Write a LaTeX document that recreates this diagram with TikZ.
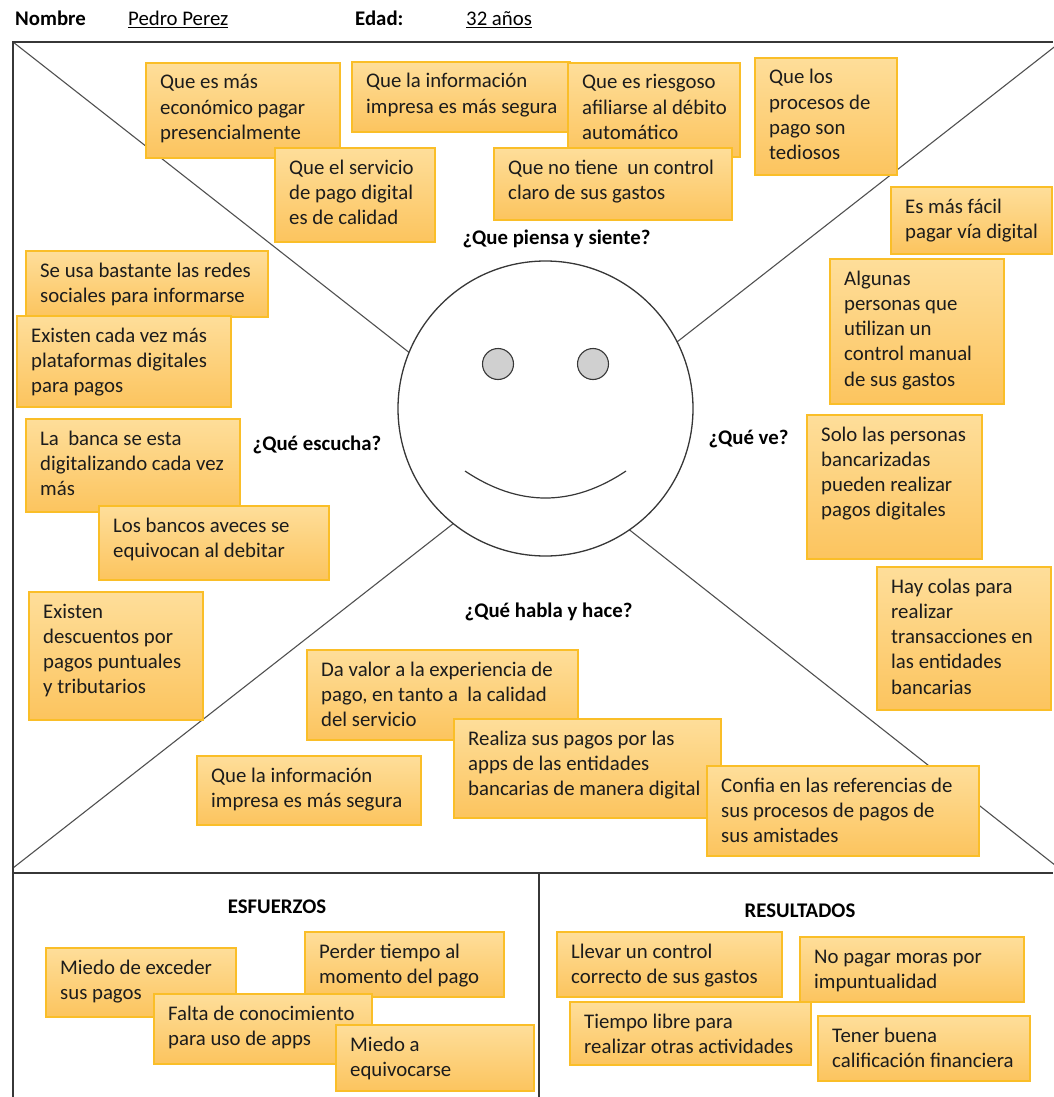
\documentclass[tikz,border=0pt]{standalone}
\usepackage{fontspec}
\setmainfont{Carlito}
\usetikzlibrary{calc}

\definecolor{noteedge}{RGB}{250,190,40}
\definecolor{notetop}{RGB}{254,222,154}
\definecolor{notebot}{RGB}{252,196,94}
\definecolor{ink}{RGB}{28,28,28}
\definecolor{frameline}{RGB}{55,55,55}
\definecolor{diagline}{RGB}{80,80,80}
\definecolor{eyefill}{RGB}{208,208,208}

\newcommand{\stickyfont}{\fontsize{20.8}{25.3}\selectfont}

\tikzset{
  note/.style={rectangle, draw=noteedge, line width=1.4pt, top color=notetop,
    bottom color=notebot, inner sep=0pt, outer sep=0pt, anchor=north west},
  notetext/.style={inner sep=0pt, anchor=base west, text=ink, font=\stickyfont},
  heading/.style={inner sep=0pt, anchor=base, text=black, font=\stickyfont\bfseries},
  headword/.style={inner sep=0pt, anchor=base west, text=black, font=\stickyfont},
  frame/.style={draw=frameline, line width=1.7pt},
  diag/.style={draw=diagline, line width=1.1pt},
}

% sticky note: name, x1, y1, x2, y2, text lines
\newcommand{\stickynote}[6]{%
  \node[note, minimum width={#4-#2}, minimum height={#5-#3}] (#1) at (#2,#3) {};
  \node[notetext] (#1-text) at ($(#1.north west)+(14,26)$)
    {\parbox[t]{400pt}{\raggedright #6}};
}

\begin{document}
\begin{tikzpicture}[x=1pt, y=-1pt]
\useasboundingbox (0,0) rectangle (1053,1097);

% header
\node[headword, font=\stickyfont\bfseries] (nombre) at (15,26) {Nombre};
\node[headword] (pedro) at (128,26) {\underline{Pedro Perez}};
\node[headword, font=\stickyfont\bfseries] (edad) at (355,26) {Edad:};
\node[headword] (years) at (466,26) {\underline{32 años}};

% frame corners
\coordinate (tl) at (13,42);
\coordinate (tr) at (1053,42);
\coordinate (ml) at (13,873);
\coordinate (mr) at (1053,873);
\coordinate (bl) at (13,1097);
\coordinate (mid) at (539,873);
\coordinate (midb) at (539,1097);

% diagonal ends
\coordinate (dtl) at (13,42);
\coordinate (dtr) at (1060,42.5);
\coordinate (dbl) at (13,868);
\coordinate (dbr) at (1065,873);
\coordinate (etl) at (420,361);
\coordinate (etr) at (668,349);
\coordinate (ebl) at (463,516);
\coordinate (ebr) at (622,524);

\path[diag] (dtl) -- (etl);
\path[diag] (dtr) -- (etr);
\path[diag] (dbl) -- (ebl);
\path[diag] (dbr) -- (ebr);

\path[frame] (tr) -- (tl) -- (bl);
\path[frame] (ml) -- (mr);
\path[frame] (mid) -- (midb);

% face
\node[circle, draw=frameline, line width=1.3pt, fill=white, minimum size=295pt,
  inner sep=0pt] (face) at (545.5,408.5) {};
\node[circle, draw=frameline, line width=1.1pt, fill=eyefill, minimum size=31pt,
  inner sep=0pt] (eyel) at (498,364) {};
\node[circle, draw=frameline, line width=1.1pt, fill=eyefill, minimum size=31pt,
  inner sep=0pt] (eyer) at (593,364) {};
\coordinate (smilea) at (465,471);
\coordinate (smileb) at (626,471);
\draw[frameline, line width=1.2pt] (smilea) .. controls (518.7,507) and (572.3,507) .. (smileb);

% quadrant titles
\node[heading] (think) at (556.5,244) {¿Que piensa y siente?};
\node[heading] (hear) at (317,450) {¿Qué escucha?};
\node[heading] (see) at (748.5,444) {¿Qué ve?};
\node[heading] (say) at (548.5,617) {¿Qué habla y hace?};
\node[heading] (pains) at (277,913) {ESFUERZOS};
\node[heading] (gains) at (800,917) {RESULTADOS};

% thinks and feels
\stickynote{n1}{146}{63}{340}{158}{Que es más\\económico pagar\\presencialmente}
\stickynote{n5}{275}{148}{435}{242}{Que el servicio\\de pago digital\\es de calidad}
\stickynote{n2}{352}{62}{570}{132}{Que la información\\impresa es más segura}
\stickynote{n3}{568}{63}{740}{157}{Que es riesgoso\\afiliarse al débito\\automático}
\stickynote{n6}{494}{148}{732}{220}{Que no tiene~ un control\\claro de sus gastos}
\stickynote{n4}{755}{58}{897}{175}{Que los\\procesos de\\pago son\\tediosos}

% sees
\stickynote{n7}{891}{187}{1052}{254}{Es más fácil\\pagar vía digital}
\stickynote{n8}{830}{259}{1004}{404}{Algunas\\personas que\\utilizan un\\control manual\\de sus gastos}
\stickynote{n9}{807}{415}{982}{559}{Solo las personas\\bancarizadas\\pueden realizar\\pagos digitales}
\stickynote{n10}{877}{567}{1051}{710}{Hay colas para\\realizar\\transacciones en\\las entidades\\bancarias}

% hears
\stickynote{n11}{26}{251}{268}{317}{Se usa bastante las redes\\sociales para informarse}
\stickynote{n12}{17}{316}{231}{407}{Existen cada vez más\\plataformas digitales\\para pagos}
\stickynote{n13}{26}{419}{240}{512}{La~ banca se esta\\digitalizando cada vez\\más}
\stickynote{n14}{99}{506}{329}{580}{Los bancos aveces se\\equivocan al debitar}
\stickynote{n15}{29}{592}{203}{720}{Existen\\descuentos por\\pagos puntuales\\y tributarios}

% says and does
\stickynote{n16}{307}{650}{578}{740}{Da valor a la experiencia de\\pago, en tanto a~ la calidad\\del servicio}
\stickynote{n18}{454}{719}{721}{818}{Realiza sus pagos por las\\apps de las entidades\\bancarias de manera digital}
\stickynote{n19}{707}{766}{979}{856}{Confia en las referencias de\\sus procesos de pagos de\\sus amistades}
\stickynote{n17}{197}{756}{421}{825}{Que la información\\impresa es más segura}

% pains
\stickynote{p1}{46}{948}{236}{1017}{Miedo de exceder\\sus pagos}
\stickynote{p2}{305}{932}{504}{997}{Perder tiempo al\\momento del pago}
\stickynote{p3}{154}{994}{372}{1064}{Falta de conocimiento\\para uso de apps}
\stickynote{p4}{336}{1025}{534}{1091}{Miedo a\\equivocarse}

% gains
\stickynote{g1}{557}{932}{782}{997}{Llevar un control\\correcto de sus gastos}
\stickynote{g2}{800}{937}{1024}{1002}{No pagar moras por\\impuntualidad}
\stickynote{g3}{570}{1002}{811}{1065}{Tiempo libre para\\realizar otras actividades}
\stickynote{g4}{818}{1016}{1030}{1081}{Tener buena\\calificación financiera}
\end{tikzpicture}
\end{document}
